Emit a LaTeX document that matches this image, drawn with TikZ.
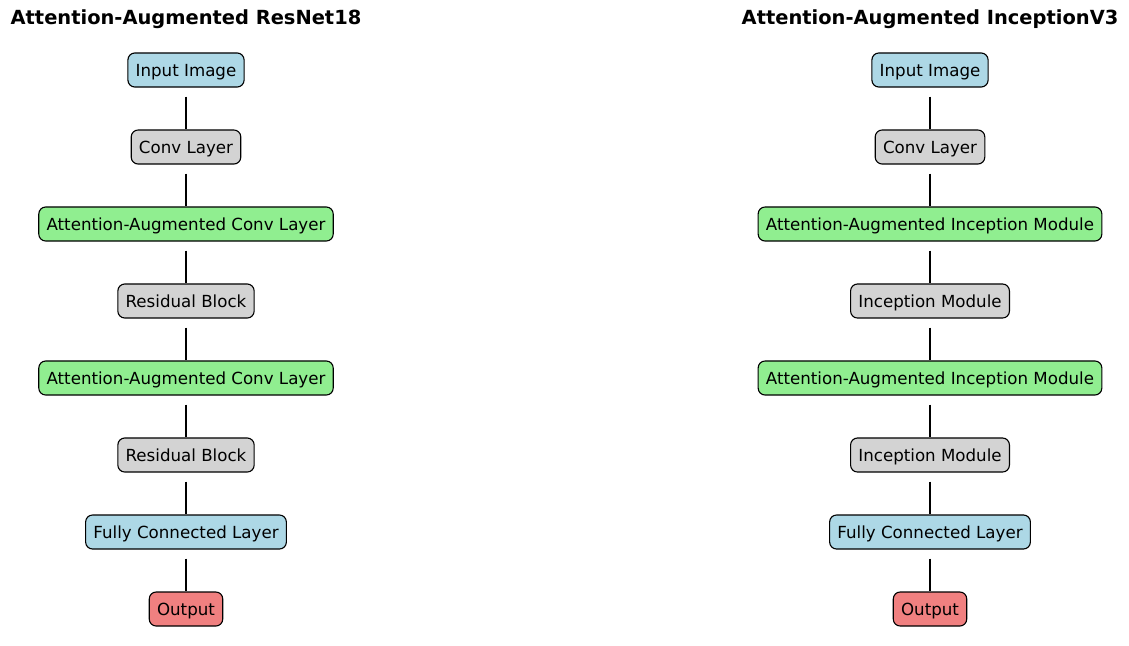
\documentclass[tikz,border=0pt]{standalone}
\usepackage{fontspec}
\setmainfont{DejaVu Sans}
\usepackage{xcolor}
\usepackage{tikz}
\definecolor{inblue}{HTML}{ADD8E6}
\definecolor{convgray}{HTML}{D3D3D3}
\definecolor{attgreen}{HTML}{90EE90}
\definecolor{outred}{HTML}{F08080}

\begin{document}
\begin{tikzpicture}[x=0.72pt, y=-0.72pt,
  layer/.style={draw=black, line width=0.8pt, rounded corners=5pt, font=\fontsize{12}{14}\selectfont,
    minimum height=24.5pt, inner xsep=5.6pt, text height=8.8pt, text depth=0pt},
  link/.style={line width=1.1pt, shorten <=6.5pt},
  heading/.style={font=\fontsize{14}{16}\selectfont\bfseries}]
\useasboundingbox (0,0) rectangle (1129,645);
\node[heading] (rtitle) at (186,19) {Attention-Augmented ResNet18};
\node[heading] (ititle) at (930,19) {Attention-Augmented InceptionV3};
% ResNet18 column
\node[layer, fill=inblue] (rin) at (186,70) {Input Image};
\node[layer, fill=convgray] (rconv) at (186,147) {Conv Layer};
\node[layer, fill=attgreen] (ratta) at (186,224) {Attention-Augmented Conv Layer};
\node[layer, fill=convgray] (rresa) at (186,301) {Residual Block};
\node[layer, fill=attgreen] (rattb) at (186,378) {Attention-Augmented Conv Layer};
\node[layer, fill=convgray] (rresb) at (186,455) {Residual Block};
\node[layer, fill=inblue] (rfc) at (186,532) {Fully Connected Layer};
\node[layer, fill=outred] (rout) at (186,609) {Output};
% InceptionV3 column
\node[layer, fill=inblue] (iin) at (930,70) {Input Image};
\node[layer, fill=convgray] (iconv) at (930,147) {Conv Layer};
\node[layer, fill=attgreen] (iatta) at (930,224) {Attention-Augmented Inception Module};
\node[layer, fill=convgray] (imoda) at (930,301) {Inception Module};
\node[layer, fill=attgreen] (iattb) at (930,378) {Attention-Augmented Inception Module};
\node[layer, fill=convgray] (imodb) at (930,455) {Inception Module};
\node[layer, fill=inblue] (ifc) at (930,532) {Fully Connected Layer};
\node[layer, fill=outred] (iout) at (930,609) {Output};
\draw[link] (rin) -- (rconv);
\draw[link] (rconv) -- (ratta);
\draw[link] (ratta) -- (rresa);
\draw[link] (rresa) -- (rattb);
\draw[link] (rattb) -- (rresb);
\draw[link] (rresb) -- (rfc);
\draw[link] (rfc) -- (rout);
\draw[link] (iin) -- (iconv);
\draw[link] (iconv) -- (iatta);
\draw[link] (iatta) -- (imoda);
\draw[link] (imoda) -- (iattb);
\draw[link] (iattb) -- (imodb);
\draw[link] (imodb) -- (ifc);
\draw[link] (ifc) -- (iout);
\end{tikzpicture}
\end{document}
